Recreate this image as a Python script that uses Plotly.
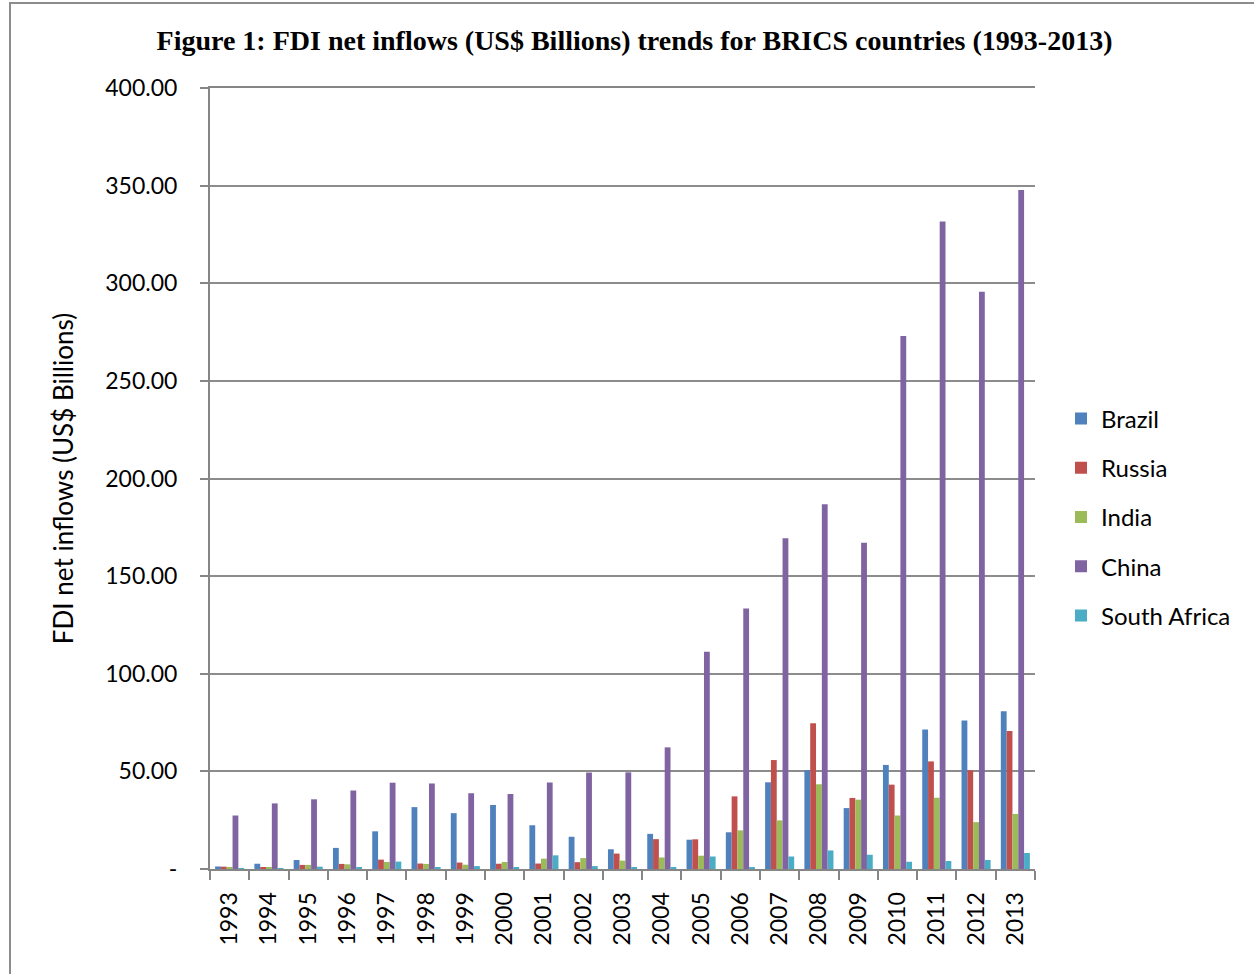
import plotly.graph_objects as go

years = [str(y) for y in range(1993, 2014)]
brazil = [1.3, 2.7, 4.6, 10.8, 19.3, 31.7, 28.6, 32.8, 22.4, 16.5, 10.1, 18.0, 15.0, 18.8, 44.4, 50.6, 31.2, 53.3, 71.5, 76.1, 80.8]
russia = [1.2, 0.7, 2.1, 2.6, 4.8, 2.8, 3.3, 2.7, 2.8, 3.5, 7.9, 15.3, 15.2, 37.2, 55.8, 74.7, 36.4, 43.2, 55.1, 50.6, 70.7]
india = [0.6, 1.0, 2.1, 2.4, 3.6, 2.6, 2.2, 3.6, 5.3, 5.6, 4.3, 5.9, 6.8, 19.8, 24.9, 43.4, 35.5, 27.4, 36.5, 24.0, 28.2]
china = [27.4, 33.6, 35.7, 40.2, 44.2, 43.8, 38.8, 38.4, 44.3, 49.4, 49.5, 62.3, 111.3, 133.4, 169.4, 186.8, 167.1, 273.0, 331.6, 295.6, 347.8]
south_africa = [0.1, 0.4, 1.2, 0.8, 3.8, 0.6, 1.5, 1.0, 7.0, 1.5, 0.8, 0.8, 6.4, 0.6, 6.4, 9.5, 7.3, 3.7, 4.1, 4.6, 8.2]

series = [
    ("Brazil", brazil, "#4F81BD"),
    ("Russia", russia, "#C0504D"),
    ("India", india, "#9BBB59"),
    ("China", china, "#8064A2"),
    ("South Africa", south_africa, "#4BACC6"),
]

ytick_vals = [0, 50, 100, 150, 200, 250, 300, 350, 400]
ytick_text = ["-", "50.00", "100.00", "150.00", "200.00", "250.00", "300.00", "350.00", "400.00"]

fig = go.Figure()
for name, vals, color in series:
    fig.add_trace(go.Bar(
        x=years, y=vals, name=name, legendgroup=name,
        marker=dict(color=color, line=dict(width=0)),
    ))

W, H = 1254, 974
L, R, T, B = 210, 219, 88, 105
pw, ph = W - L - R, H - T - B

fig.update_layout(
    width=W, height=H,
    margin=dict(l=L, r=R, t=T, b=B),
    paper_bgcolor="white", plot_bgcolor="white",
    barmode="group", bargap=0.26, bargroupgap=0,
    font=dict(family="Lato, Open Sans, sans-serif", color="black", size=23),
    title=dict(
        text="<b>Figure 1: FDI net inflows (US$ Billions) trends for BRICS countries (1993-2013)</b>",
        font=dict(family="Liberation Serif, serif", size=28, color="black"),
        x=0.506, xanchor="center", xref="container",
        y=1 - 40 / H, yanchor="middle", yref="container",
    ),
    legend=dict(
        x=(1061 - L) / pw, xanchor="left",
        y=(H - B - 517) / ph, yanchor="middle",
        font=dict(size=24, family="Lato, Open Sans, sans-serif"),
        tracegroupgap=15, itemwidth=30, bgcolor="rgba(0,0,0,0)",
    ),
    xaxis=dict(
        type="category", tickangle=-90, ticks="outside", tickson="boundaries",
        ticklen=9, tickcolor="#868686", tickwidth=2,
        showline=True, linecolor="#868686", linewidth=2, mirror=True,
        showgrid=False, tickfont=dict(size=23), ticklabelstandoff=12,
    ),
    yaxis=dict(
        range=[0, 400], tickvals=ytick_vals, ticktext=ytick_text,
        ticks="outside", ticklen=8, tickcolor="#868686", tickwidth=2,
        showline=True, linecolor="#868686", linewidth=2,
        showgrid=True, gridcolor="#8c8c8c", gridwidth=2,
        zeroline=False, tickfont=dict(size=23), ticklabelstandoff=18,
        title=dict(text="FDI net inflows (US$ Billions)", font=dict(size=26), standoff=24),
    ),
    shapes=[dict(
        type="rect", xref="paper", yref="paper",
        x0=(10 - L) / pw, x1=(1275 - L) / pw,
        y0=-(B + 20) / ph, y1=1 + (T - 3) / ph,
        line=dict(color="#8c8c8c", width=2), fillcolor="rgba(0,0,0,0)", layer="below",
    )],
)

fig.write_html("out.html")
